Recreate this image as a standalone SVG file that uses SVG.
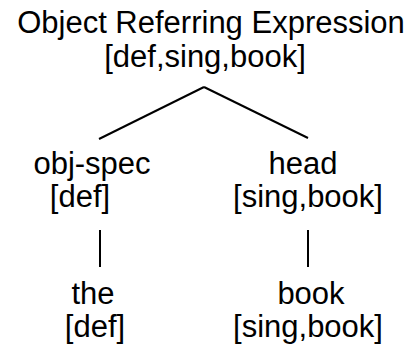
<svg xmlns="http://www.w3.org/2000/svg" width="412" height="349" viewBox="0 0 412 349">
<style>
text{font-family:"Liberation Sans",Arial,sans-serif;font-size:31px;fill:#000;text-anchor:middle}
.e{stroke:#000;stroke-width:2;fill:none}
</style>
<rect width="412" height="349" fill="#fff"/>
<g id="connectors">
<line class="e" x1="204" y1="87" x2="99" y2="139"/>
<line class="e" x1="204" y1="87" x2="308" y2="138"/>
<line class="e" x1="100" y1="230" x2="100" y2="267"/>
<line class="e" x1="308" y1="230" x2="308" y2="267"/>
</g>
<g id="root"><text x="211" y="33">Object Referring Expression</text><text x="205" y="67">[def,sing,book]</text></g>
<g id="objspec"><text x="92" y="174">obj-spec</text><text x="80" y="207">[def]</text></g>
<g id="head"><text x="303" y="174">head</text><text x="308" y="207">[sing,book]</text></g>
<g id="the"><text x="93" y="304">the</text><text x="95" y="337">[def]</text></g>
<g id="book"><text x="311" y="304">book</text><text x="308" y="337">[sing,book]</text></g>
</svg>
